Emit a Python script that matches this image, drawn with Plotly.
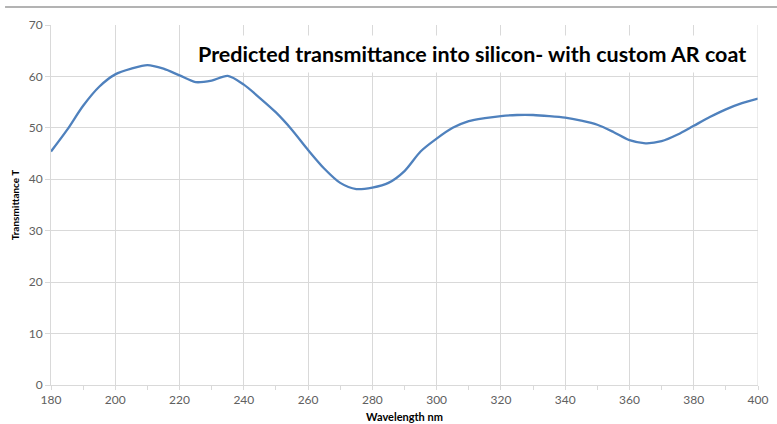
import plotly.graph_objects as go

wavelength = [180, 185, 190, 195, 200, 205, 210, 215, 220, 225, 230, 235, 240, 245, 250,
              255, 260, 265, 270, 275, 280, 285, 290, 295, 300, 305, 310, 315, 320, 325,
              330, 335, 340, 345, 350, 355, 360, 365, 370, 375, 380, 385, 390, 395, 400]
transmittance = [45.4, 49.6, 54.3, 58.0, 60.4, 61.5, 62.2, 61.5, 60.2, 58.9, 59.2, 60.1, 58.4, 55.8, 53.0,
                 49.6, 45.7, 42.1, 39.3, 38.1, 38.4, 39.3, 41.6, 45.4, 47.9, 50.0, 51.3, 51.9, 52.3, 52.5,
                 52.5, 52.3, 52.0, 51.4, 50.6, 49.2, 47.6, 47.0, 47.4, 48.7, 50.4, 52.1, 53.6, 54.8, 55.7]

title_text = "Predicted transmittance into silicon- with custom AR coat"
x_title = "Wavelength nm"
y_title = "Transmittance T"

fig = go.Figure()
fig.add_trace(go.Scatter(
    x=wavelength, y=transmittance, mode="lines",
    line=dict(color="#4f81bd", width=2.3, shape="spline", smoothing=0.8),
    showlegend=False, hoverinfo="skip"))

grid = "#d9d9d9"
tickfont = dict(family="Lato, 'Open Sans', sans-serif", size=12, color="#606060")

fig.update_layout(
    width=777, height=424,
    margin=dict(l=51, r=19, t=25, b=39),
    paper_bgcolor="white", plot_bgcolor="white",
    font=dict(family="Lato, 'Open Sans', sans-serif"),
    xaxis=dict(
        range=[180, 400], dtick=20, tick0=180, automargin=False,
        showgrid=True, gridcolor=grid, gridwidth=1,
        showline=True, linecolor=grid, linewidth=1, mirror=False,
        ticks="outside", ticklen=4, tickcolor=grid,
        minor=dict(dtick=10, ticks="outside", ticklen=4, tickcolor=grid, showgrid=False),
        tickfont=tickfont, zeroline=False,
        title=dict(text="<b>" + x_title + "</b>", font=dict(size=11, color="#000000"), standoff=6),
    ),
    yaxis=dict(
        range=[0, 70], dtick=10, automargin=False,
        showgrid=True, gridcolor=grid, gridwidth=1,
        showline=True, linecolor=grid, linewidth=1,
        ticks="outside", ticklen=5, tickcolor=grid,
        tickfont=tickfont, zeroline=False,
        title=dict(text="<b>" + y_title + "</b>", font=dict(size=10, color="#000000"), standoff=7),
    ),
    shapes=[
        dict(type="line", xref="x", yref="y", x0=400, x1=400, y0=0, y1=70,
             line=dict(color=grid, width=1)),
        dict(type="line", xref="paper", yref="paper", x0=-0.065, x1=1.03, y0=1.05, y1=1.05,
             line=dict(color="#9a9a9a", width=1.5)),
    ],
    annotations=[
        dict(text="<b>" + title_text + "</b>", xref="x", yref="y", x=398, y=64.3,
             xanchor="right", yanchor="middle", showarrow=False,
             font=dict(size=21.5, color="#000000", family="Lato, 'Open Sans', sans-serif"),
             bgcolor="white", borderpad=5),
    ],
)

fig.write_html("out.html", config={"displayModeBar": False},
               post_script="document.body.style.margin='0';document.body.style.overflow='hidden';")
